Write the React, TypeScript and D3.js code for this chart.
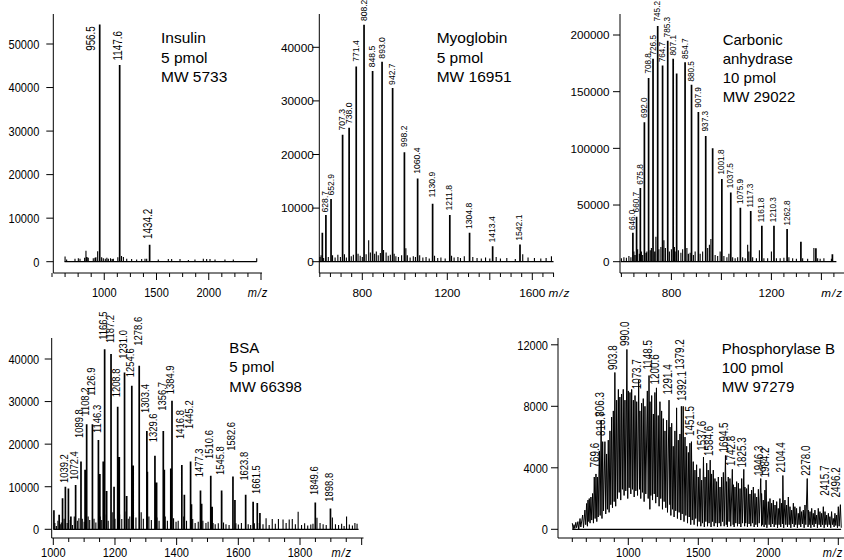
import React from 'react';
import * as d3 from 'd3';

const SANS = '"Liberation Sans", Arial, sans-serif';
const NARROW_SX = 0.82; // condensed look, squeezed along the text direction

// ---- Insulin ----
const insulinTitle = ['Insulin', '5 pmol', 'MW 5733'];
const insulinPeaks = [[956.5, 54500], [1147.6, 45200], [1434.2, 3900]];
const insulinLabels = [[956.5, 48200], [1147.6, 46000], [1434.2, 5000]];
const insulinNoise = [
  [625, 1200], [640, 500], [720, 700], [752, 800], [768, 700], [812, 900], [825, 2500], [835, 1100],
  [847, 900], [895, 800], [911, 900], [920, 1000], [937, 2400], [975, 1000], [991, 800], [1010, 700],
  [1025, 900], [1039, 700], [1060, 800], [1075, 600], [1087, 700], [1130, 1000], [1165, 1300],
  [1183, 1100], [1215, 700], [1262, 600], [1310, 500], [1358, 600], [1390, 700], [1406, 700],
  [1517, 500], [1613, 600], [1645, 600], [1725, 600], [1805, 400], [1868, 500], [1948, 700],
  [1980, 600], [2012, 600], [2060, 500], [2155, 500], [2235, 500], [2459, 800],
];

// ---- Myoglobin ----
const myoTitle = ['Myoglobin', '5 pmol', 'MW 16951'];
const myoPeaks = [
  [612, 5400], [628.7, 8700], [652.9, 11700], [707.3, 23700], [738.0, 25000], [771.4, 36400],
  [808.2, 44200], [848.5, 35600], [893.0, 37300], [942.7, 32400], [998.2, 20400], [1060.4, 15500],
  [1130.9, 10800], [1211.8, 8700], [1304.8, 5400], [1413.4, 2900], [1542.1, 3200],
];
const myoLabels = [
  [628.7, 9000], [652.9, 12150], [707.3, 24300], [738.0, 25500], [771.4, 37100], [808.2, 44700],
  [848.5, 36100], [893.0, 37700], [942.7, 32800], [998.2, 21200], [1060.4, 16200], [1130.9, 11800],
  [1211.8, 9350], [1304.8, 5900], [1413.4, 3400], [1542.1, 3700],
];
const myoNoise = [
  [600, 900], [606, 1200], [618, 700], [640, 900], [660, 1200], [672, 800], [685, 1300], [697, 900],
  [716, 1400], [725, 800], [748, 1000], [758, 1300], [780, 1500], [790, 1100], [800, 900], [818, 1400],
  [830, 4000], [838, 1700], [858, 1500], [866, 1900], [875, 1200], [885, 1600], [900, 2200], [912, 1700],
  [922, 1100], [932, 1300], [950, 1500], [958, 1000], [970, 900], [985, 1200], [1005, 2500], [1012, 1200],
  [1025, 800], [1040, 1000], [1050, 900], [1070, 1200], [1085, 800], [1100, 900], [1115, 600],
  [1140, 1100], [1155, 700], [1170, 800], [1190, 600], [1220, 1100], [1232, 800], [1250, 900],
  [1262, 700], [1280, 1000], [1320, 900], [1340, 700], [1360, 600], [1380, 800], [1400, 600],
  [1430, 900], [1450, 600], [1480, 700], [1520, 500], [1555, 1400], [1580, 800], [1610, 700],
  [1640, 600], [1665, 700], [1690, 1000],
];

// ---- Carbonic anhydrase ----
const carbTitle = ['Carbonic', 'anhydrase', '10 pmol', 'MW 29022'];
const carbPeaks = [
  [646.0, 25600], [660.7, 39700], [675.8, 65000], [692.0, 123000], [708.8, 162000], [726.5, 179000],
  [745.2, 208000], [764.7, 173000], [785.3, 195000], [807.1, 179000], [821, 166000], [854.7, 176000],
  [880.5, 156000], [907.9, 132000], [937.3, 111000], [965, 100000], [1001.8, 73000], [1037.5, 61000],
  [1075.9, 47600], [1117.3, 44700], [1161.8, 31800], [1210.3, 31800], [1262.8, 28800], [1318, 17600],
  [1378, 11800], [1444, 6500],
];
const carbLabels = [
  [646.0, 27000], [660.7, 42600], [675.8, 67000], [692.0, 126000], [708.8, 165000], [726.5, 181000],
  [745.2, 211000], [764.7, 175000], [785.3, 197000], [807.1, 181000], [854.7, 178000], [880.5, 158000],
  [907.9, 135000], [937.3, 114000], [1001.8, 76000], [1037.5, 64000], [1075.9, 50000], [1117.3, 47000],
  [1161.8, 34000], [1210.3, 34000], [1262.8, 31000],
];
const carbNoise = [
  [600, 3000], [610, 4000], [620, 3500], [630, 5000], [638, 4000], [650, 9000], [655, 6000], [665, 11000],
  [672, 7000], [680, 9000], [685, 6000], [698, 8000], [702, 9000], [715, 10000], [720, 12000], [733, 9000],
  [738, 22000], [750, 11000], [758, 13000], [770, 19000], [776, 12000], [792, 9000], [800, 11000],
  [812, 13000], [815, 9000], [828, 10000], [838, 8000], [845, 11000], [862, 12000], [868, 7000],
  [875, 8000], [888, 6000], [895, 9000], [915, 7000], [925, 9000], [945, 12000], [952, 15000],
  [958, 20000], [975, 6000], [985, 5000], [995, 9000], [1010, 5000], [1022, 4000], [1030, 7000],
  [1045, 4000], [1055, 3000], [1065, 4000], [1085, 4000], [1095, 3000], [1105, 15000], [1110, 9000],
  [1125, 4000], [1140, 3000], [1152, 10000], [1170, 3000], [1185, 3000], [1200, 9000], [1220, 3000],
  [1235, 3000], [1250, 3500], [1270, 4000], [1285, 3000], [1300, 2500], [1325, 3000], [1345, 2500],
  [1370, 12000], [1385, 3000], [1395, 2500], [1410, 3000], [1440, 2500],
];

// ---- BSA ----
const bsaTitle = ['BSA', '5 pmol', 'MW 66398'];
const bsaPeaks = [
  [1039.2, 10000], [1072.4, 10400], [1089.8, 15900], [1108.2, 24700], [1126.9, 24700], [1146.3, 21000],
  [1166.5, 42300], [1187.2, 41200], [1208.8, 28800], [1231.0, 36800], [1254.6, 33700], [1278.6, 38400],
  [1303.4, 23100], [1329.6, 17300], [1356.7, 23100], [1384.9, 30200], [1416.8, 15100], [1445.2, 15900],
  [1477.3, 9100], [1510.6, 12600], [1545.8, 9100], [1582.6, 12400], [1623.8, 8100], [1661.5, 6200],
  [1849.6, 6300], [1898.8, 4900],
];
const bsaLabels = [
  [1039.2, 10650], [1072.4, 11350], [1089.8, 21200], [1108.2, 26460], [1126.9, 31150], [1146.3, 22400],
  [1166.5, 44300], [1187.2, 43500], [1208.8, 30760], [1231.0, 39800], [1254.6, 35500], [1278.6, 42900],
  [1303.4, 27100], [1329.6, 20200], [1356.7, 27600], [1384.9, 31500], [1416.8, 21000], [1445.2, 23300],
  [1477.3, 12000], [1510.6, 16300], [1545.8, 12500], [1582.6, 18200], [1623.8, 11200], [1661.5, 8060],
  [1849.6, 7800], [1898.8, 6260],
];
const bsaMinor = [
  [1002, 4500], [1019, 3400], [1030, 7300], [1049, 9600], [1057, 3000], [1103, 14000], [1151, 13000],
  [1162, 15900], [1173, 9000], [1197, 10000], [1214, 17000], [1238, 7800], [1259, 15000], [1305, 13500],
  [1335, 11000], [1360, 14000], [1381, 14300], [1425, 8100], [1448, 5900], [1481, 6000], [1515, 5300],
  [1546, 8400], [1589, 6900], [1648, 6500], [1670, 3800],
];
const bsaNoise = [
  [1005, 1500], [1010, 800], [1015, 2000], [1022, 1200], [1026, 1600], [1035, 2500], [1045, 1500],
  [1055, 2200], [1062, 1000], [1068, 3000], [1078, 2000], [1083, 2600], [1094, 2500], [1100, 1800],
  [1113, 3000], [1118, 2200], [1132, 2500], [1138, 1600], [1152, 3000], [1157, 2200], [1172, 3500],
  [1178, 2000], [1193, 4000], [1200, 2500], [1215, 3500], [1222, 2400], [1236, 4200], [1243, 2500],
  [1248, 3000], [1260, 4300], [1268, 2800], [1285, 4000], [1292, 2500], [1310, 3000], [1318, 2200],
  [1336, 2800], [1343, 2000], [1363, 3000], [1370, 2000], [1390, 2600], [1398, 1800], [1405, 2000],
  [1423, 3000], [1432, 2000], [1452, 2400], [1460, 1500], [1470, 1800], [1485, 2000], [1495, 1500],
  [1502, 1800], [1518, 1500], [1525, 1200], [1535, 1400], [1552, 1600], [1560, 1200], [1570, 1000],
  [1592, 1400], [1600, 1100], [1610, 1500], [1632, 1200], [1640, 1000], [1652, 1400], [1668, 1500],
  [1680, 1200], [1690, 2600], [1700, 1000], [1710, 2400], [1720, 1300], [1730, 2400], [1745, 2300],
  [1755, 1500], [1765, 2300], [1775, 2400], [1785, 1200], [1794, 4100], [1805, 1000], [1815, 1400],
  [1825, 900], [1835, 1100], [1842, 1300], [1855, 2700], [1865, 1500], [1875, 1200], [1885, 1000],
  [1905, 2800], [1915, 1200], [1925, 1000], [1935, 1300], [1943, 800], [1951, 3000], [1960, 1100],
  [1970, 900], [1978, 1500], [1985, 1300],
];

// ---- Phosphorylase B: [m/z, spike top, trough] ----
const phosTitle = ['Phosphorylase B', '100 pmol', 'MW 97279'];
const phosForest = [
  [600, 400, 0], [612, 300, 50], [625, 450, 100], [640, 500, 0], [655, 700, 150], [674, 930, 100],
  [690, 1250, 300], [702, 1680, 200], [712, 1900, 500], [721, 2000, 400], [733, 2100, 600], [745, 2330, 400],
  [757, 3400, 700], [769, 3600, 500], [779, 3400, 800], [793, 5100, 900], [806, 7100, 700], [817, 5700, 1200],
  [833, 5700, 1000], [845, 4900, 1300], [857, 5800, 1100], [869, 6400, 1600], [881, 7300, 1400],
  [893, 7700, 1800], [904, 10200, 1500], [917, 8400, 2000], [929, 9100, 2400], [940, 8600, 1900],
  [952, 8800, 2600], [964, 9100, 2200], [976, 8400, 2500], [990, 11700, 2000], [1000, 9000, 2700],
  [1012, 8900, 2300], [1024, 9100, 2600], [1036, 8400, 2100], [1048, 8700, 2500], [1060, 8300, 2200],
  [1074, 9700, 2600], [1083, 7700, 2000], [1095, 8200, 2400], [1107, 8500, 1800], [1119, 8000, 2300],
  [1136, 9000, 2000], [1148, 10000, 1300], [1155, 8300, 2200], [1167, 8700, 1900], [1179, 7500, 2300],
  [1190, 8900, 1700], [1201, 9200, 2100], [1214, 7400, 1500], [1226, 8300, 2000], [1238, 7700, 1300],
  [1250, 7200, 1800], [1262, 6400, 1400], [1274, 7100, 1100], [1291, 8400, 1600], [1298, 6650, 900],
  [1310, 6900, 1300], [1321, 5400, 800], [1333, 6400, 1200], [1345, 7900, 700], [1357, 5800, 1100],
  [1369, 6200, 600], [1379, 8000, 1000], [1392, 8000, 500], [1405, 6000, 900], [1417, 5400, 400],
  [1429, 5000, 800], [1440, 5600, 300], [1451, 5700, 600], [1464, 4400, 300], [1476, 3850, 700],
  [1488, 4200, 200], [1500, 3400, 500], [1512, 3950, 200], [1524, 3200, 400], [1537, 4700, 150],
  [1548, 3400, 500], [1560, 4300, 200], [1571, 3850, 400], [1585, 4500, 150], [1595, 3600, 500],
  [1607, 3850, 200], [1619, 3300, 400], [1631, 3100, 150], [1643, 3400, 400], [1655, 2750, 200],
  [1667, 3400, 500], [1679, 3700, 200], [1694, 4800, 300], [1702, 3100, 150], [1714, 3400, 500],
  [1726, 3300, 200], [1743, 3900, 300], [1750, 2900, 150], [1762, 2750, 400], [1774, 3100, 200],
  [1786, 3000, 350], [1798, 2650, 150], [1810, 3300, 400], [1825, 3900, 200], [1833, 2750, 400],
  [1845, 2650, 150], [1857, 2900, 350], [1869, 2300, 200], [1881, 2550, 400], [1893, 2750, 150],
  [1905, 2330, 300], [1917, 2100, 150], [1929, 2600, 400], [1946, 3300, 200], [1952, 2330, 300],
  [1964, 1900, 150], [1976, 2550, 300], [1984, 3200, 100], [2000, 1800, 300], [2012, 2000, 150],
  [2024, 1700, 350], [2036, 1900, 150], [2048, 1580, 300], [2060, 1800, 100], [2071, 1360, 300],
  [2083, 2000, 150], [2095, 1700, 350], [2104, 3500, 100], [2119, 1900, 300], [2131, 1580, 150],
  [2143, 2100, 300], [2155, 1470, 100], [2167, 1250, 350], [2179, 1700, 150], [2190, 1470, 300],
  [2202, 1360, 100], [2214, 1040, 300], [2226, 1470, 150], [2238, 1150, 350], [2250, 1250, 100],
  [2262, 1580, 300], [2278, 3300, 150], [2286, 1250, 300], [2298, 1150, 100], [2310, 1360, 300],
  [2321, 1040, 150], [2333, 1250, 350], [2345, 930, 100], [2357, 1360, 300], [2369, 1150, 150],
  [2381, 1040, 300], [2393, 1470, 100], [2405, 1150, 300], [2417, 930, 150], [2429, 1040, 300],
  [2440, 820, 100], [2452, 1150, 300], [2464, 710, 150], [2476, 1040, 250], [2488, 930, 100],
  [2500, 1470, 200], [2515, 1600, 100],
];
const phosLabels = [
  [769.6, 3960], [806.3, 7260], [818.7, 6000], [903.8, 10300], [990.0, 11850], [1073.7, 9040],
  [1148.5, 10330], [1200.6, 9360], [1291.4, 8710], [1379.2, 10330], [1392.1, 8280], [1451.5, 6000],
  [1537.6, 5040], [1584.6, 4710], [1694.5, 4930], [1742.8, 4060], [1825.3, 3960], [1946.3, 3420],
  [1984.2, 3300], [2104.4, 3630], [2278.0, 3420], [2415.7, 2120], [2496.2, 2010],
];

const panels = [
  {
    key: 'insulin', title: insulinTitle, titleX: 161, titleY: 43, titleSize: 15.5, lineH: 19.5,
    xRef: [1000, 2000], xPx: [104.25, 208.75], yRef: 50000, yPx: [261.7, 44],
    yAxisX: 53.3, yTop: 14, xAxisY: 273, labelDY: 24, xEnd: 262, yGap: 14,
    yTicks: [0, 10000, 20000, 30000, 40000, 50000],
    minor: d3.range(500, 2501, 125), major: [1000, 1500, 2000, 2500], xLabels: [1000, 1500, 2000],
    unitAt: 2470, unitAnchor: 'middle',
    tickSX: NARROW_SX, tickSize: 13.5, base: [620, 2460],
    peaks: insulinPeaks, noise: insulinNoise, labels: insulinLabels, labelSX: NARROW_SX, labelSize: 12,
  },
  {
    key: 'myo', title: myoTitle, titleX: 436.7, titleY: 43, titleSize: 15.5, lineH: 19.5,
    xRef: [800, 1600], xPx: [362.3, 532.3], yRef: 40000, yPx: [261.7, 47.3],
    yAxisX: 319.3, yTop: 14, xAxisY: 273, labelDY: 24, xEnd: 554, yGap: 5.5,
    yTicks: [0, 10000, 20000, 30000, 40000],
    minor: d3.range(600, 1701, 50), major: [800, 1000, 1200, 1400, 1600], xLabels: [800, 1200, 1600],
    unitAt: 1728, unitAnchor: 'middle',
    tickSX: 1, tickSize: 11.8, base: [596, 1700],
    peaks: myoPeaks, noise: myoNoise, labels: myoLabels, labelSX: 1, labelSize: 8.6,
  },
  {
    key: 'carb', title: carbTitle, titleX: 722.7, titleY: 45, titleSize: 15, lineH: 19,
    xRef: [800, 1200], xPx: [671.4, 771.4], yRef: 200000, yPx: [261.7, 35],
    yAxisX: 620, yTop: 14, xAxisY: 273, labelDY: 24, xEnd: 844, yGap: 10.5,
    yTicks: [0, 50000, 100000, 150000, 200000],
    minor: d3.range(600, 1451, 50), major: [800, 1000, 1200, 1400], xLabels: [800, 1200],
    unitAt: 1489, unitAnchor: 'end',
    tickSX: 1, tickSize: 11.7, base: [597, 1460],
    peaks: carbPeaks, noise: carbNoise, labels: carbLabels, labelSX: 1, labelSize: 8.2,
  },
  {
    key: 'bsa', title: bsaTitle, titleX: 229.3, titleY: 353, titleSize: 15, lineH: 19.3,
    xRef: [1000, 1800], xPx: [53.3, 300], yRef: 40000, yPx: [529.3, 359],
    yAxisX: 51.7, yTop: 338, xAxisY: 538, labelDY: 18.5, xEnd: 363.5, yGap: 12.5,
    yTicks: [0, 10000, 20000, 30000, 40000],
    minor: d3.range(1000, 2001, 50), major: [1000, 1200, 1400, 1600, 1800, 2000],
    xLabels: [1000, 1200, 1400, 1600, 1800], unitAt: 1935, unitAnchor: 'middle',
    tickSX: NARROW_SX, tickSize: 13.5, base: [1000, 1990],
    peaks: bsaPeaks.concat(bsaMinor), noise: bsaNoise, labels: bsaLabels, labelSX: NARROW_SX, labelSize: 11.5,
  },
  {
    key: 'phos', title: phosTitle, titleX: 721.7, titleY: 354, titleSize: 15, lineH: 19,
    xRef: [1000, 2000], xPx: [628.3, 768.3], yRef: 12000, yPx: [529.3, 344.8],
    yAxisX: 558, yTop: 338, xAxisY: 538, labelDY: 18.5, xEnd: 844, yGap: 10,
    yTicks: [0, 4000, 8000, 12000],
    minor: d3.range(600, 2501, 100), major: [1000, 1500, 2000, 2500], xLabels: [1000, 1500, 2000],
    unitAt: 2610, unitAnchor: 'end',
    tickSX: NARROW_SX, tickSize: 13.5, base: [600, 2520],
    forest: phosForest, peaks: [], noise: [], labels: phosLabels, labelSX: NARROW_SX, labelSize: 12,
  },
];

function Spectrum({ p }) {
  const x = d3.scaleLinear().domain(p.xRef).range(p.xPx);
  const y = d3.scaleLinear().domain([0, p.yRef]).range(p.yPx);
  const y0 = y(0);

  const sticks = list => {
    const path = d3.path();
    list.forEach(([m, h]) => {
      path.moveTo(x(m), y0);
      path.lineTo(x(m), y(h));
    });
    return path.toString();
  };

  let forestPath = null;
  if (p.forest) {
    const pts = [];
    p.forest.forEach(([m, hi, lo]) => {
      pts.push([m, hi]);
      pts.push([m + 6, lo]);
    });
    forestPath = d3.line().x(d => x(d[0])).y(d => y(d[1]))(pts);
  }

  const peakAt = m => {
    const hit = p.peaks.find(d => Math.abs(d[0] - m) < 0.05);
    return hit ? hit[1] : 0;
  };

  const tickText = (tx, ty, anchor, content, extra = {}) => (
    <text transform={`translate(${tx},${ty}) scale(${p.tickSX},1)`} textAnchor={anchor}
      fontFamily={SANS} fontSize={p.tickSize} {...extra}>{content}</text>
  );

  return (
    <g>
      {/* y axis */}
      <line x1={p.yAxisX} x2={p.yAxisX} y1={p.yTop} y2={p.xAxisY} stroke="#000" strokeWidth={1} />
      {p.yTicks.map(t => (
        <g key={'y' + t}>
          <line x1={p.yAxisX - 7} x2={p.yAxisX} y1={y(t)} y2={y(t)} stroke="#000" strokeWidth={1} />
          {tickText(p.yAxisX - p.yGap, y(t), 'end', t, { dy: '0.36em' })}
        </g>
      ))}
      {/* x axis */}
      <line x1={p.yAxisX} x2={p.xEnd} y1={p.xAxisY} y2={p.xAxisY} stroke="#000" strokeWidth={1} />
      {p.minor.map(t => (
        <line key={'m' + t} x1={x(t)} x2={x(t)} y1={p.xAxisY} y2={p.xAxisY + (p.major.includes(t) ? 7 : 4)}
          stroke="#000" strokeWidth={1} />
      ))}
      {p.xLabels.map(t => (
        <g key={'x' + t}>{tickText(x(t), p.xAxisY + p.labelDY, 'middle', t)}</g>
      ))}
      {tickText(Math.min(x(p.unitAt), 843), p.xAxisY + p.labelDY, p.unitAnchor, 'm/z',
        { fontStyle: 'italic', letterSpacing: 1 })}

      {/* spectrum */}
      <line x1={x(p.base[0])} x2={x(p.base[1])} y1={y0} y2={y0} stroke="#000" strokeWidth={1.2} />
      <path d={sticks(p.noise)} stroke="#000" strokeWidth={1.1} fill="none" />
      <path d={sticks(p.peaks)} stroke="#000" strokeWidth={1.7} fill="none" />
      {forestPath && <path d={forestPath} stroke="#000" strokeWidth={1} fill="none" />}

      {p.labels.map(([m, lvl]) => {
        const left = peakAt(m) > lvl * 1.05;
        const lx = x(m) + (left ? -5 : 2.5);
        const ly = y(lvl) - 1;
        return (
          <text key={'l' + m} transform={`translate(${lx},${ly}) rotate(-90) scale(${p.labelSX},1)`}
            fontFamily={SANS} fontSize={p.labelSize}>{m.toFixed(1)}</text>
        );
      })}

      {p.title.map((t, i) => (
        <text key={'t' + i} x={p.titleX} y={p.titleY + i * p.lineH}
          fontFamily={SANS} fontSize={p.titleSize}>{t}</text>
      ))}
    </g>
  );
}

export default function App() {
  return (
    <svg width={844} height={560} style={{ position: 'absolute', left: 0, top: 0, background: '#fff' }}>
      {panels.map(p => <Spectrum key={p.key} p={p} />)}
    </svg>
  );
}
